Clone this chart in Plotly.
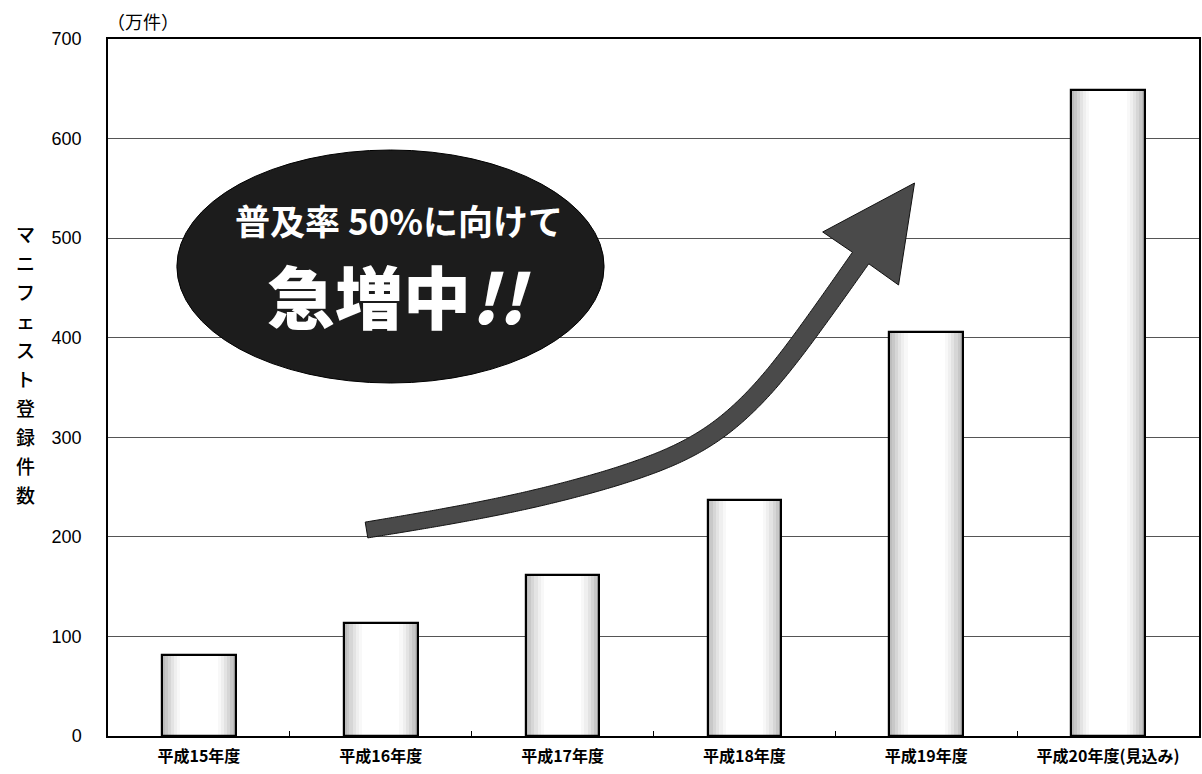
import plotly.graph_objects as go
import numpy as np

# ---------------- data ----------------
categories = ["平成15年度", "平成16年度", "平成17年度", "平成18年度", "平成19年度", "平成20年度(見込み)"]
values = [81, 113, 162, 237, 406, 649]
y_tick_values = [0, 100, 200, 300, 400, 500, 600, 700]
y_tick_labels = ["0", "100", "200", "300", "400", "500", "600", "700"]
unit_label = "（万件）"
y_title_chars = ["マ", "ニ", "フ", "ェ", "ス", "ト", "登", "録", "件", "数"]
bubble_line1 = "普及率 50%に向けて"
bubble_line2 = "急増中<i>!!</i>"

# ---------------- geometry ----------------
W, H = 1202, 774
ML, MR, MT, MB = 108, 1, 39, 38
PW, PH = W - ML - MR, H - MT - MB


def px(x):
    return (x - ML) / PW


def py(y):
    return (H - MB - y) / PH


JP = "Noto Sans CJK JP"
fig = go.Figure()

# bars drawn as layered strips to mimic the shaded edges
layers = [(0.405, "#bcbcbc"), (0.375, "#c8c8c8"), (0.345, "#d6d6d6"),
          (0.31, "#e3e3e3"), (0.275, "#efefef"), (0.24, "#f8f8f8"), (0.205, "#ffffff")]
for w, c in layers:
    fig.add_trace(go.Bar(x=categories, y=values, width=w,
                         marker=dict(color=c, line=dict(width=0)),
                         hoverinfo="skip", showlegend=False))
fig.add_trace(go.Bar(x=categories, y=values, width=0.405,
                     marker=dict(color="rgba(0,0,0,0)", line=dict(color="#000", width=2.2)),
                     showlegend=False))

# ---------------- decorative arrow ----------------
ctrl = np.array([(367, 530), (450, 516), (530, 500), (600, 482), (650, 466),
                 (700, 444), (740, 414), (775, 377), (810, 331), (838, 292),
                 (862, 258)], float)


def catmull(pts, n=16):
    out = []
    P = np.vstack([pts[0], pts, pts[-1]])
    for i in range(1, len(P) - 2):
        p0, p1, p2, p3 = P[i - 1], P[i], P[i + 1], P[i + 2]
        for t in np.linspace(0, 1, n, endpoint=False):
            t2, t3 = t * t, t * t * t
            out.append(0.5 * ((2 * p1) + (-p0 + p2) * t + (2 * p0 - 5 * p1 + 4 * p2 - p3) * t2
                              + (-p0 + 3 * p1 - 3 * p2 + p3) * t3))
    out.append(pts[-1])
    return np.array(out)


raw = catmull(ctrl, 30)
# resample by arc length and smooth to remove any corners
seg = np.hypot(*np.diff(raw, axis=0).T)
s = np.concatenate([[0], np.cumsum(seg)])
ss = np.linspace(0, s[-1], 300)
cl = np.stack([np.interp(ss, s, raw[:, 0]), np.interp(ss, s, raw[:, 1])], axis=1)
win = 41
k = np.ones(win) / win
sm = np.stack([np.convolve(np.pad(cl[:, i], win // 2, mode="reflect", reflect_type="odd"), k, mode="valid")
               for i in range(2)], axis=1)
cl = sm
d = np.gradient(cl, axis=0)
d /= np.linalg.norm(d, axis=1)[:, None]
nrm = np.stack([d[:, 1], -d[:, 0]], axis=1)
hw = np.linspace(8, 10, len(cl))[:, None]
upper = cl + nrm * hw
lower = cl - nrm * hw
head = [(824, 232), (916, 183), (900, 285)]
poly = list(upper) + head + list(lower[::-1])
path = "M " + " L ".join(f"{px(x):.5f},{py(y):.5f}" for x, y in poly) + " Z"
fig.add_shape(type="path", path=path, xref="paper", yref="paper",
              fillcolor="#4a4a4a", line=dict(color="#111", width=1), layer="above")

# ---------------- ellipse callout ----------------
fig.add_shape(type="circle", xref="paper", yref="paper",
              x0=px(177), x1=px(605), y0=py(383), y1=py(150),
              fillcolor="#1c1c1c", line=dict(color="#000", width=1), layer="above")
fig.add_annotation(x=px(400), y=py(219), xref="paper", yref="paper", text=bubble_line1,
                   xanchor="center", yanchor="middle", showarrow=False,
                   font=dict(family=JP, size=35, color="white", weight="bold"))
fig.add_annotation(x=px(400), y=py(294), xref="paper", yref="paper", text=bubble_line2,
                   xanchor="center", yanchor="middle", showarrow=False,
                   font=dict(family=JP, size=68, color="white", weight=900))

# ---------------- unit and y title ----------------
fig.add_annotation(x=px(143), y=py(21), xref="paper", yref="paper", text=unit_label,
                   xanchor="center", yanchor="middle", showarrow=False,
                   font=dict(family=JP, size=18, color="#000"))
for i, ch in enumerate(y_title_chars):
    fig.add_annotation(x=px(25), y=py(233 + 29 * i), xref="paper", yref="paper", text=ch,
                       xanchor="center", yanchor="middle", showarrow=False,
                       font=dict(family=JP, size=19, color="#000", weight=500))

fig.update_layout(
    width=W, height=H, margin=dict(l=ML, r=MR, t=MT, b=MB),
    paper_bgcolor="white", plot_bgcolor="white",
    barmode="overlay", bargap=0, showlegend=False,
    xaxis=dict(type="category", showline=True, linecolor="#000", linewidth=2, mirror=True,
               ticks="inside", tickson="boundaries", ticklen=5, tickcolor="#000",
               showgrid=False, ticklabelstandoff=5,
               tickfont=dict(family=JP, size=16, color="#000", weight="bold")),
    yaxis=dict(range=[0, 700], tickvals=y_tick_values, ticktext=y_tick_labels,
               showline=True, linecolor="#000", linewidth=1.5, mirror=True,
               showgrid=True, gridcolor="#555", gridwidth=1, zeroline=False,
               ticks="", ticklabelstandoff=21,
               tickfont=dict(family="Liberation Sans", size=18, color="#000")),
)

fig.write_html("out.html")
